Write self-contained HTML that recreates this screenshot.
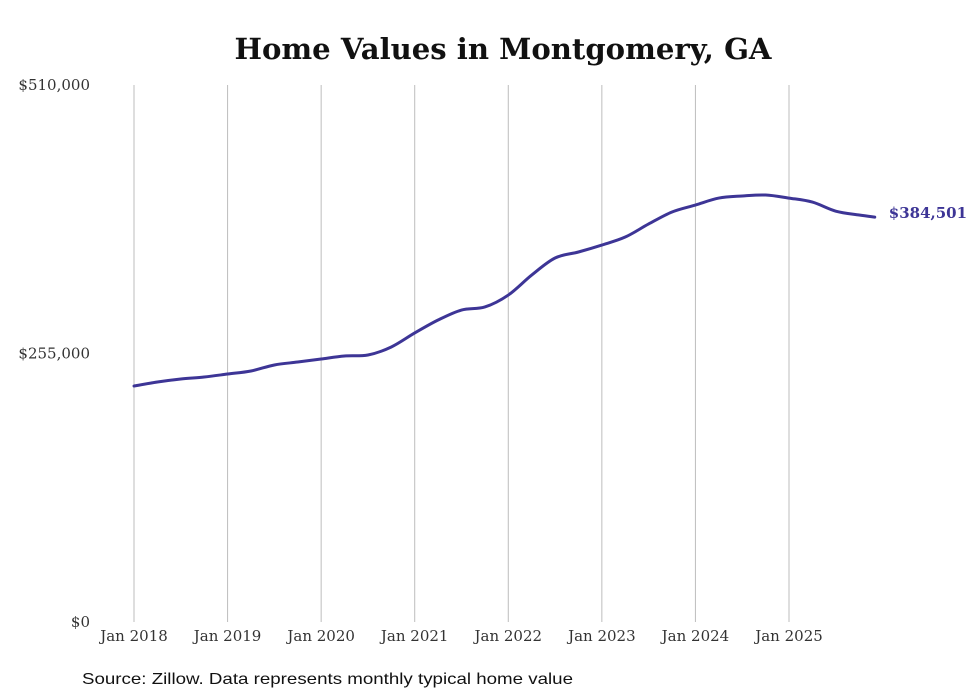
<!DOCTYPE html>
<html><head><meta charset="utf-8"><style>
body{margin:0;background:#fff;}
svg{display:block;font-family:"DejaVu Serif","Liberation Serif",serif;}
</style></head><body>
<svg id="chart" width="980" height="699">
<text x="503" y="59" text-anchor="middle" font-size="29" font-weight="bold" fill="#111" textLength="537" lengthAdjust="spacingAndGlyphs">Home Values in Montgomery, GA</text>
<g id="grid"></g><g id="yticks"></g><g id="xticks"></g>
<path id="line" fill="none" stroke="#3d3596" stroke-width="3" stroke-linejoin="round" stroke-linecap="round"></path>
<text id="endlabel" font-size="15" font-weight="bold" fill="#3d3596"></text>
<text x="82" y="684" font-size="16" fill="#111" font-family="Liberation Sans, sans-serif" textLength="491" lengthAdjust="spacingAndGlyphs">Source: Zillow. Data represents monthly typical home value</text>
</svg>
<script>
const months=[0,3,6,9,12,15,18,21,24,27,30,33,36,39,42,45,48,51,54,57,60,63,66,69,72,75,78,81,84,87,90,93,95];
const values=[224100,227900,230800,232700,235500,238400,244100,246900,249800,252600,253600,261200,274500,286800,296300,299200,310500,329500,345700,351400,358000,365600,378000,389400,396000,402600,404600,405500,402600,398800,390200,386500,384501];
const xTickLabels=["Jan 2018","Jan 2019","Jan 2020","Jan 2021","Jan 2022","Jan 2023","Jan 2024","Jan 2025"];
const yTickValues=[0,255000,510000];
const endLabel="$384,501";
const NS="http://www.w3.org/2000/svg";
function x(m){return 134+m*(655/84);}
function y(v){return 622-v/510000*537;}
function mk(t,a,p){const e=document.createElementNS(NS,t);for(const k in a)e.setAttribute(k,a[k]);p.appendChild(e);return e;}
const grid=document.getElementById('grid'),yt=document.getElementById('yticks'),xt=document.getElementById('xticks');
xTickLabels.forEach((l,i)=>{
  const gx=x(i*12);
  const ln=mk('line',{x1:gx,x2:gx,y1:85,y2:622,stroke:'#bdbdbd','stroke-width':1},grid);
  
  
  const t=mk('text',{x:gx,y:641,'text-anchor':'middle','font-size':15,fill:'#333'},xt);
  t.textContent=l;
  
  
});
yTickValues.forEach(v=>{
  const t=mk('text',{x:90,y:y(v)+5,'text-anchor':'end','font-size':15,fill:'#333'},yt);
  t.textContent='$'+v.toLocaleString('en-US');
  
  
});
const pts=months.map((m,i)=>[x(m),y(values[i])]);
let d='M'+pts[0][0]+','+pts[0][1];
for(let i=0;i<pts.length-1;i++){
  const p0=pts[Math.max(0,i-1)],p1=pts[i],p2=pts[i+1],p3=pts[Math.min(pts.length-1,i+2)];
  const c1=[p1[0]+(p2[0]-p0[0])/6,p1[1]+(p2[1]-p0[1])/6];
  const c2=[p2[0]-(p3[0]-p1[0])/6,p2[1]-(p3[1]-p1[1])/6];
  d+=` C${c1[0]},${c1[1]} ${c2[0]},${c2[1]} ${p2[0]},${p2[1]}`;
}
document.getElementById('line').setAttribute('d',d);
const el=document.getElementById('endlabel');
const last=pts[pts.length-1];
el.setAttribute('x',last[0]+14);el.setAttribute('y',last[1]+1);el.textContent=endLabel;
</script>
</body></html>
